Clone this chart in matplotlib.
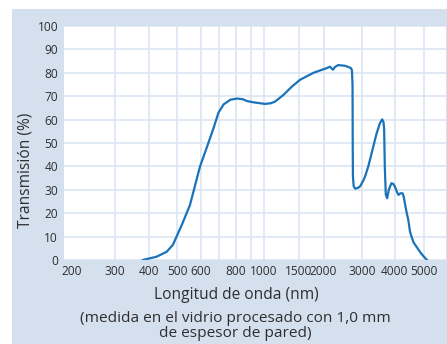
import numpy as np
import matplotlib
matplotlib.use("Agg")
import matplotlib.pyplot as plt
from matplotlib.patches import Rectangle

# Datos
longitud = [382, 427, 463, 485, 520, 554, 596, 635, 670, 700, 730, 770, 810, 850,
            873, 920, 1015, 1100, 1160, 1280, 1400, 1530, 1800, 2084, 2170, 2250,
            2300, 2385, 2560, 2650, 2720, 2745, 2760, 2765, 2770, 2790, 2830, 2900,
            2960, 3050, 3100, 3200, 3350, 3450, 3550, 3620, 3660, 3680, 3700, 3730,
            3770, 3820, 3900, 3960, 4010, 4080, 4130, 4200, 4275, 4310, 4400, 4470,
            4530, 4580, 4650, 4750, 4900, 5000, 5110]
transmision = [0, 1.4, 3.5, 6.4, 15, 23.5, 40, 48.5, 56, 63, 66.5, 68.5, 69, 68.7,
               68, 67.4, 66.7, 67, 67.7, 70.5, 74, 77, 80, 82, 82.6, 81.3,
               82.5, 83.3, 83, 82.5, 82, 81, 75, 50, 36, 31.5, 30.5, 30.8,
               31.5, 34, 35.6, 40, 48.4, 54, 58.4, 60.1, 59, 56, 40, 28,
               26.4, 30, 32.8, 32.5, 31.3, 29, 27.8, 28.5, 28.5, 27, 21, 17,
               12, 10, 7.5, 5.7, 3, 1.5, 0]
ticks_x = [200, 300, 400, 500, 600, 800, 1000, 1500, 2000, 3000, 4000, 5000]
grid_menor = [700, 900]
ticks_y = list(range(0, 101, 10))

# Escala no lineal del eje x (posiciones en pixeles del original)
esc_val = [150, 200, 300, 400, 500, 600, 700, 800, 900, 1000, 1500, 2000, 3000, 4000, 5000, 6000]
esc_px = [50.75, 72, 114.5, 149, 177, 201, 218.5, 235.5, 250.5, 264, 298.5, 323.5,
          361.7, 394.7, 423.7, 452.7]

def adelante(x):
    return np.interp(x, esc_val, esc_px)

def inversa(p):
    return np.interp(p, esc_px, esc_val)

azul_fondo = "#d5e0ef"
azul_linea = "#1a72b9"
gris = "#2e2e2e"

W, H = 447, 344
fig = plt.figure(figsize=(W / 100, H / 100), dpi=100)
fig.patch.set_facecolor("white")
fig.patches.append(Rectangle((12 / W, 0), 1, (H - 9) / H, transform=fig.transFigure,
                             facecolor=azul_fondo, edgecolor="none", zorder=-10))

izq, der, arr, aba = 63.7, 446, 26, 260
ax = fig.add_axes([izq / W, (H - aba) / H, (der - izq) / W, (aba - arr) / H])
ax.set_facecolor("white")
ax.set_xscale("function", functions=(adelante, inversa))
ax.set_xlim(inversa(izq), inversa(der))
ax.set_ylim(0, 100)

ax.plot(longitud, transmision, color=azul_linea, lw=1.6, zorder=3)

ax.set_xticks(ticks_x)
ax.set_xticklabels([str(t) for t in ticks_x])
ax.set_xticks(grid_menor, minor=True)
ax.set_yticks(ticks_y)
ax.tick_params(axis="both", which="both", length=0, labelsize=8.6, colors=gris)
ax.tick_params(axis="x", pad=3.5)
ax.tick_params(axis="y", pad=4)
ax.grid(True, which="both", color="#dce5f2", lw=1.2, zorder=0)
ax.get_xgridlines()[0].set_visible(False)
for s in ax.spines.values():
    s.set_visible(False)
for lab in ax.get_xticklabels() + ax.get_yticklabels():
    lab.set_family("Open Sans")

fig.text(26 / W, 1 - 170 / H, "Transmisión (%)", rotation=90, ha="center", va="center",
         fontsize=11.2, color=gris, family="Open Sans")
fig.text(236 / W, 1 - 295 / H, "Longitud de onda (nm)", ha="center", va="center",
         fontsize=11.2, color=gris, family="Open Sans")
fig.text(235 / W, 1 - 326 / H, "(medida en el vidrio procesado con 1,0 mm\nde espesor de pared)",
         ha="center", va="center", fontsize=11.1, color=gris, family="Open Sans",
         linespacing=1.0)

fig.savefig("out.png", dpi=100, facecolor=fig.get_facecolor())
